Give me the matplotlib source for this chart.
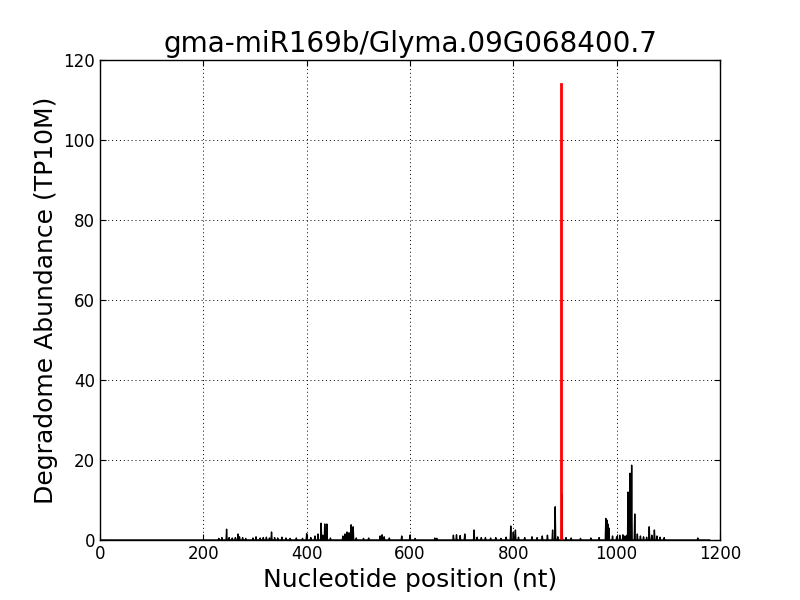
import numpy as np
import matplotlib
matplotlib.use("Agg")
import matplotlib.pyplot as plt

title = "gma-miR169b/Glyma.09G068400.7"
xlabel = "Nucleotide position (nt)"
ylabel = "Degradome Abundance (TP10M)"

transcript_length = 1180

# degradome peaks: position (nt) and abundance (TP10M)
positions = [230, 236, 245, 250, 256, 262, 267, 270, 276, 282, 296, 302, 310, 316, 322, 328, 332,
             338, 344, 352, 360, 368, 380, 392, 400, 408, 416, 422, 428, 431, 435, 439, 446,
             470, 474, 478, 482, 486, 490, 496, 510, 520, 542, 546, 550, 560, 584, 600, 610,
             648, 652, 684, 690, 697, 706, 724, 730, 738, 746, 756, 766, 776, 786, 795, 800,
             804, 810, 822, 836, 846, 856, 866, 876, 881, 886, 894, 902, 912, 930, 950, 966,
             979, 981, 983, 985, 992, 1000, 1006, 1012, 1016, 1020, 1022, 1026, 1029, 1035,
             1040, 1046, 1052, 1058, 1063, 1068, 1073, 1078, 1084, 1092, 1157]
values = [0.4, 0.6, 2.7, 0.6, 0.5, 0.6, 1.5, 0.8, 0.6, 0.4, 0.5, 0.8, 0.5, 0.6, 0.7, 0.5, 2.0,
          0.6, 0.5, 0.7, 0.5, 0.4, 0.5, 0.4, 1.6, 0.6, 1.0, 1.5, 4.2, 1.2, 4.0, 4.0, 0.5,
          1.0, 1.5, 2.0, 1.8, 3.8, 3.3, 0.5, 0.4, 0.5, 1.0, 1.3, 0.8, 0.5, 1.0, 1.2, 0.4,
          0.5, 0.4, 1.2, 1.3, 1.1, 1.5, 2.5, 0.7, 0.6, 0.6, 0.5, 0.6, 0.4, 0.7, 3.5, 2.0,
          2.5, 0.7, 0.6, 0.8, 0.6, 1.0, 1.2, 2.5, 8.3, 0.8, 11.5, 0.6, 0.5, 0.4, 0.5, 0.6,
          5.4, 5.0, 4.0, 3.0, 1.0, 0.8, 1.2, 1.3, 1.0, 1.2, 12.0, 16.7, 18.7, 6.5,
          1.5, 1.0, 0.8, 0.7, 3.3, 1.2, 2.5, 1.0, 0.7, 0.6, 0.5]

cleavage_position = 892
cleavage_value = 114

x = np.arange(0, transcript_length + 1)
y = np.zeros_like(x, dtype=float)
for p, v in zip(positions, values):
    y[p] = v

fig = plt.figure(figsize=(8, 6), dpi=100)
ax = fig.add_axes([0.125, 0.1, 0.775, 0.8])
ax.plot(x, y, color="black", linewidth=1)
ax.plot([cleavage_position, cleavage_position], [0, cleavage_value], color="red", linewidth=2)

ax.set_xlim(0, 1200)
ax.set_ylim(0, 120)
ax.set_xticks(np.arange(0, 1201, 200))
ax.set_yticks(np.arange(0, 121, 20))
ax.grid(True, linestyle=(0, (1, 3)), color="black", linewidth=0.7)
ax.tick_params(direction="in", top=True, right=True, labelsize=12, length=4)
for s in ax.spines.values():
    s.set_color("black")
    s.set_linewidth(1)
ax.set_title(title, fontsize=20)
ax.set_xlabel(xlabel, fontsize=18)
ax.set_ylabel(ylabel, fontsize=18)

fig.savefig("out.png", dpi=100)
